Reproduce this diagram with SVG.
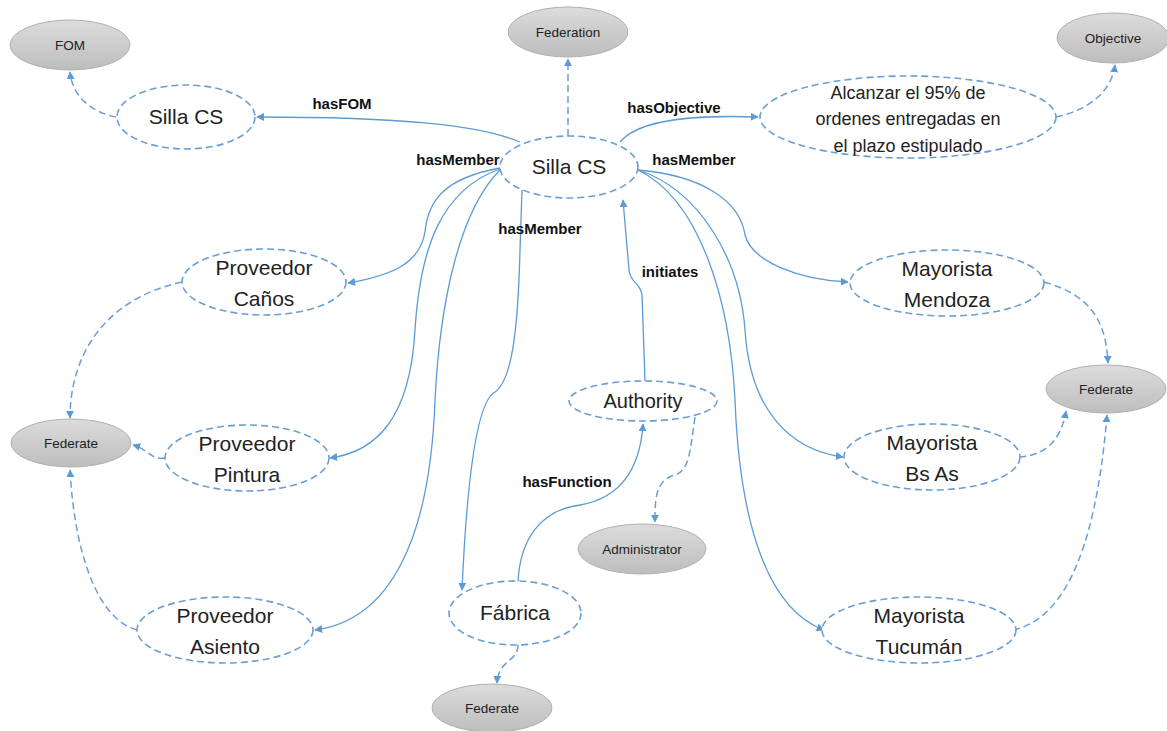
<svg xmlns="http://www.w3.org/2000/svg" width="1167" height="731" viewBox="0 0 1167 731">
<style>
.g{fill:url(#gg);stroke:#b0b0b0;stroke-width:1}
.d{fill:#fff;stroke:#6a9fd6;stroke-width:1.6;stroke-dasharray:7 4}
.gt{font-family:"Liberation Sans",Arial,sans-serif;font-size:13.5px;fill:#222;text-anchor:middle}
.nt{font-family:"Liberation Sans",Arial,sans-serif;font-size:21px;fill:#222;text-anchor:middle}
.st{font-family:"Liberation Sans",Arial,sans-serif;font-size:18px;fill:#222;text-anchor:middle}
.lb{font-family:"Liberation Sans",Arial,sans-serif;font-size:15px;font-weight:bold;fill:#111;text-anchor:middle}
.c{fill:none;stroke:#5b9bd5;stroke-width:1.3;marker-end:url(#ah)}
.cd{fill:none;stroke:#6a9fd6;stroke-width:1.5;stroke-dasharray:7 4;marker-end:url(#ah)}
</style>
<defs>
<linearGradient id="gg" x1="0" y1="0" x2="0" y2="1">
<stop offset="0" stop-color="#dcdcdc"/><stop offset="1" stop-color="#bdbdbd"/>
</linearGradient>
<marker id="ah" viewBox="0 0 10 10" refX="9" refY="5" markerWidth="8" markerHeight="8" markerUnits="userSpaceOnUse" orient="auto">
<path d="M0,0 L10,5 L0,10 z" fill="#5b9bd5"/>
</marker>
</defs>
<rect width="1167" height="731" fill="#fff"/>
<g id="connectors">
<path class="c" d="M520,142 C480,125 400,117 257,117"/>
<path class="cd" d="M568,136 L568,59"/>
<path class="c" d="M620,142 C640,118 700,115 758,117"/>
<path class="cd" d="M1056,117 C1090,110 1112,90 1115,65"/>
<path class="cd" d="M116,117 C90,112 72,95 70,72"/>
<path class="c" d="M500,168 C445,178 428,200 425,232 C420,262 395,275 348,283"/>
<path class="c" d="M500,169 C440,190 420,250 415,330 C410,420 375,452 330,458"/>
<path class="c" d="M500,170 C460,210 440,300 435,400 C430,540 390,620 315,630"/>
<path class="c" d="M522,190 L520,250 C518,330 512,380 495,392 C475,402 466,500 462,590"/>
<path class="c" d="M645,381 L642,295 C641,283 630,283 629,270 L623,200"/>
<path class="c" d="M518,582 C520,540 540,510 580,505 C620,498 640,470 643,424"/>
<path class="cd" d="M695,417 C690,450 690,470 675,475 C655,480 655,500 655,522"/>
<path class="c" d="M638,170 C700,175 740,200 745,235 C752,262 800,280 848,282"/>
<path class="c" d="M638,170 C700,190 740,260 745,330 C750,410 790,450 843,457"/>
<path class="c" d="M638,170 C700,200 730,300 735,400 C740,530 770,610 824,630"/>
<path class="cd" d="M1044,282 C1090,295 1106,320 1108,363"/>
<path class="cd" d="M1019,457 C1050,455 1062,435 1066,411"/>
<path class="cd" d="M1013,630 C1060,620 1095,560 1107,415"/>
<path class="cd" d="M182,282 C100,300 70,360 70,418"/>
<path class="cd" d="M165,458 C150,460 150,450 133,445"/>
<path class="cd" d="M137,630 C100,620 75,560 70,470"/>
<path class="cd" d="M518,645 C518,662 498,660 497,683"/>
</g>
<g id="labels">
<text class="lb" x="342" y="109">hasFOM</text>
<text class="lb" x="674" y="113">hasObjective</text>
<text class="lb" x="458" y="165">hasMember</text>
<text class="lb" x="694" y="165">hasMember</text>
<text class="lb" x="540" y="234">hasMember</text>
<text class="lb" x="670" y="277">initiates</text>
<text class="lb" x="567" y="487">hasFunction</text>
</g>
<g id="FOM"><ellipse class="g" cx="70" cy="45" rx="60" ry="25"/><text class="gt" x="70" y="50">FOM</text></g>
<g id="Federation"><ellipse class="g" cx="568" cy="32" rx="60" ry="25"/><text class="gt" x="568" y="37">Federation</text></g>
<g id="Objective"><ellipse class="g" cx="1113" cy="38" rx="56" ry="25"/><text class="gt" x="1113" y="43">Objective</text></g>
<g id="FederateLeft"><ellipse class="g" cx="71" cy="443" rx="60" ry="24"/><text class="gt" x="71" y="448">Federate</text></g>
<g id="FederateRight"><ellipse class="g" cx="1106" cy="389" rx="60" ry="24"/><text class="gt" x="1106" y="394">Federate</text></g>
<g id="Administrator"><ellipse class="g" cx="642" cy="549" rx="64" ry="25"/><text class="gt" x="642" y="554">Administrator</text></g>
<g id="FederateBottom"><ellipse class="g" cx="492" cy="708" rx="60" ry="24"/><text class="gt" x="492" y="713">Federate</text></g>
<g id="SillaCSLeft"><ellipse class="d" cx="186" cy="117" rx="69" ry="32"/><text class="nt" x="186" y="124">Silla CS</text></g>
<g id="SillaCS"><ellipse class="d" cx="569" cy="167" rx="69" ry="31"/><text class="nt" x="569" y="174">Silla CS</text></g>
<g id="Alcanzar"><ellipse class="d" cx="908" cy="117" rx="148" ry="41"/>
<text class="st" x="908" y="99">Alcanzar el 95% de</text>
<text class="st" x="908" y="125">ordenes entregadas en</text>
<text class="st" x="908" y="152">el plazo estipulado</text></g>
<g id="ProveedorCanos"><ellipse class="d" cx="264" cy="282" rx="82" ry="33"/><text class="nt" x="264" y="275">Proveedor</text><text class="nt" x="264" y="306">Caños</text></g>
<g id="ProveedorPintura"><ellipse class="d" cx="247" cy="458" rx="82" ry="33"/><text class="nt" x="247" y="451">Proveedor</text><text class="nt" x="247" y="482">Pintura</text></g>
<g id="ProveedorAsiento"><ellipse class="d" cx="225" cy="630" rx="88" ry="33"/><text class="nt" x="225" y="623">Proveedor</text><text class="nt" x="225" y="654">Asiento</text></g>
<g id="Fabrica"><ellipse class="d" cx="515" cy="613" rx="66" ry="32"/><text class="nt" x="515" y="620">Fábrica</text></g>
<g id="Authority"><ellipse class="d" cx="643" cy="401" rx="74" ry="20"/><text class="nt" x="643" y="408" style="font-size:20px">Authority</text></g>
<g id="MayoristaMendoza"><ellipse class="d" cx="947" cy="283" rx="97" ry="33"/><text class="nt" x="947" y="276">Mayorista</text><text class="nt" x="947" y="307">Mendoza</text></g>
<g id="MayoristaBsAs"><ellipse class="d" cx="932" cy="457" rx="88" ry="33"/><text class="nt" x="932" y="450">Mayorista</text><text class="nt" x="932" y="481">Bs As</text></g>
<g id="MayoristaTucuman"><ellipse class="d" cx="919" cy="630" rx="97" ry="33"/><text class="nt" x="919" y="623">Mayorista</text><text class="nt" x="919" y="654">Tucumán</text></g>
</svg>
